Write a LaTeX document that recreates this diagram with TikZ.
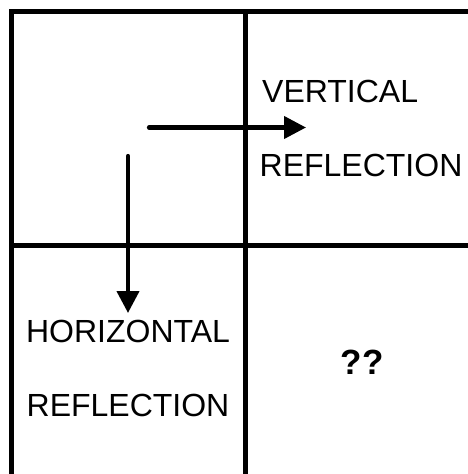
\documentclass[tikz,border=0pt]{standalone}
\usepackage{fontspec}
\setmainfont{Liberation Sans}
\usetikzlibrary{arrows.meta}

\tikzset{
    cellline/.style={line width=5pt},
    refarrow/.style={line width=4.2pt, line cap=round, -{Triangle[length=22pt,width=22pt]}},
    reftext/.style={inner sep=0pt, font=\fontsize{32pt}{38pt}\selectfont},
    asktext/.style={inner sep=0pt, font=\fontsize{35pt}{40pt}\selectfont\bfseries}
}

\begin{document}
\begin{tikzpicture}[x=1pt,y=-1pt]
\useasboundingbox (0,0) rectangle (468,474);
\clip (0,0) rectangle (468,474);

% ===== Cells =====
\foreach \x in {11,245} {
    \foreach \y in {11,245} {
        \draw[cellline] (\x,\y) rectangle ++(234,234);
    }
}

% ===== Texts =====
\node[reftext, anchor=base west] (vert) at (262,102) {VERTICAL};
\node[reftext, anchor=base west] (vrefl) at (259.5,176) {REFLECTION};

\node[reftext, anchor=base] (horiz) at (128,342) {HORIZONTAL};
\node[reftext, anchor=base] (hrefl) at (128,416) {REFLECTION};

\node[asktext, anchor=base] (ask) at (362,374) {??};

% ===== Arrows =====
\coordinate (hstart) at (149,127.5);
\coordinate (hend) at (306,127.5);
\draw[refarrow] (hstart) -- (hend);

\coordinate (vstart) at (128,156);
\coordinate (vend) at (128,313);
\draw[refarrow] (vstart) -- (vend);

\end{tikzpicture}
\end{document}
